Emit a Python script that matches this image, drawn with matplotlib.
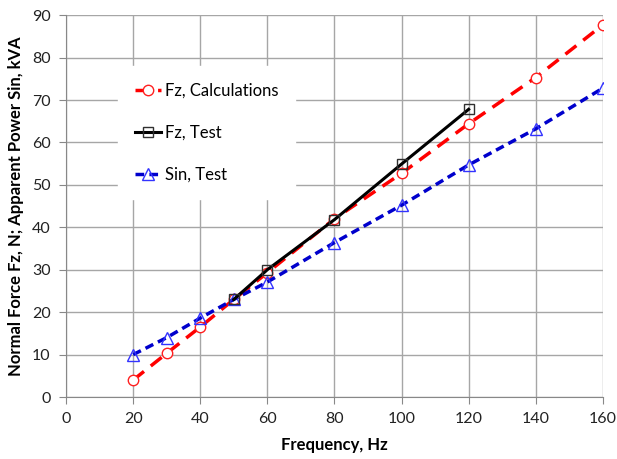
import matplotlib
matplotlib.use("Agg")
import matplotlib.pyplot as plt

# data
FREQ_CALC = [20, 30, 40, 50, 60, 80, 100, 120, 140, 160]
FZ_CALC   = [4.0, 10.3, 16.5, 23.0, 29.3, 42.0, 52.7, 64.4, 75.3, 87.7]

FREQ_FZ_TEST = [50, 60, 80, 100, 120]
FZ_TEST      = [23.0, 30.0, 41.8, 54.9, 67.8]

FREQ_SIN = [20, 30, 40, 50, 60, 80, 100, 120, 140, 160]
SIN_TEST = [10.0, 14.0, 18.6, 23.0, 27.1, 36.4, 45.2, 54.7, 63.2, 72.8]

X_TICKS = list(range(0, 161, 20))
Y_TICKS = list(range(0, 91, 10))

plt.rcParams["font.family"] = ["Lato", "DejaVu Sans"]

fig = plt.figure(figsize=(6.17, 4.59), dpi=100)
ax = fig.add_axes([0.107, 0.135, 0.870, 0.832])

ax.plot(FREQ_CALC, FZ_CALC, color="#ff0000", linestyle=(0, (4, 2.5)), linewidth=2.5,
        marker="o", markersize=7.5, markerfacecolor="white", markeredgecolor="#ff2020",
        markeredgewidth=1.0, label="Fz, Calculations", zorder=3)
ax.plot(FREQ_FZ_TEST, FZ_TEST, color="black", linestyle="-", linewidth=2.2,
        marker="s", markersize=7, markerfacecolor="none", markeredgecolor="#303030",
        markeredgewidth=1.0, label="Fz, Test", zorder=4)
ax.plot(FREQ_SIN, SIN_TEST, color="#0000cc", linestyle=(0, (2.5, 1.5)), linewidth=2.5,
        marker="^", markersize=8, markerfacecolor="none", markeredgecolor="#3333ff",
        markeredgewidth=1.0, label="Sin, Test", zorder=3)

ax.set_xlim(0, 160)
ax.set_ylim(0, 90)
ax.set_xticks(X_TICKS)
ax.set_yticks(Y_TICKS)
ax.grid(True, color="#a6a6a6", linewidth=1.0)
ax.set_axisbelow(True)

for side in ["top", "right"]:
    ax.spines[side].set_visible(False)
for side in ["left", "bottom"]:
    ax.spines[side].set_color("#888888")
ax.tick_params(direction="out", length=5, color="#888888", labelsize=11.5,
               labelcolor="#222222", pad=6)

ax.set_xlabel("Frequency, Hz", fontsize=12, fontweight="bold", labelpad=8)
ax.set_ylabel("Normal Force Fz, N; Apparent Power Sin, kVA", fontsize=12,
              fontweight="bold", labelpad=6)

leg = ax.legend(loc="upper left", bbox_to_anchor=(0.097, 0.866), frameon=True,
                fontsize=12, handlelength=1.6, handletextpad=0.2,
                labelspacing=1.55, borderpad=1.0, borderaxespad=0, fancybox=False)
leg.get_frame().set_edgecolor("white")
leg.get_frame().set_facecolor("white")
leg.get_frame().set_alpha(1.0)

fig.savefig("out.png", dpi=100)
